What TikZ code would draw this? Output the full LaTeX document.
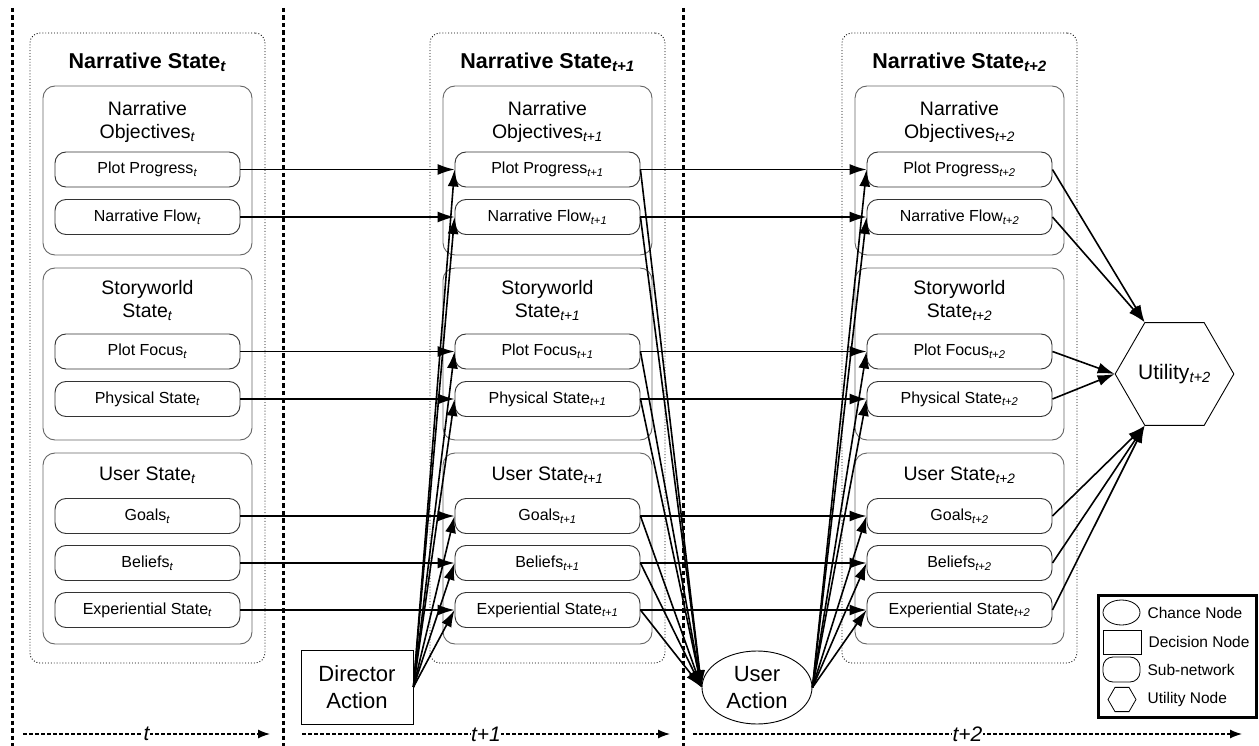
\documentclass[tikz,border=0pt]{standalone}
\usepackage{fontspec}
\setmainfont{Liberation Sans}
\usetikzlibrary{arrows.meta,positioning,shapes.geometric}
\newcommand{\subt}[1]{\textsubscript{\textit{#1}}}

\begin{document}
\begin{tikzpicture}[
 x=1pt, y=-1pt,
 arr/.style={-{Latex[length=17pt,width=11pt]},line width=1.6pt},
 sub/.style={draw=black!80,line width=0.9pt,rounded corners=11pt,minimum width=185pt,minimum height=35pt,inner sep=0pt,font=\fontsize{16}{19}\selectfont},
 grp/.style={draw=black!60,line width=0.9pt,rounded corners=12pt,minimum width=209pt,inner sep=0pt},
 grptitle/.style={align=center,inner sep=0pt,font=\fontsize{19.5}{22.5}\selectfont},
 nsbox/.style={draw,dotted,line width=0.9pt,rounded corners=10pt,minimum width=235pt,minimum height=630pt,inner sep=0pt},
 nstitle/.style={inner sep=0pt,font=\bfseries\fontsize{21.5}{25}\selectfont},
 divider/.style={line width=3pt,dash pattern=on 4.5pt off 3pt},
 timeline/.style={-{Latex[length=12pt,width=9pt]},line width=1.3pt,dash pattern=on 4pt off 2pt},
 timelab/.style={fill=white,inner sep=0.5pt,font=\itshape\fontsize{21}{25}\selectfont},
 action/.style={draw,line width=0.9pt,align=center,inner sep=0pt,font=\fontsize{22}{27}\selectfont},
 lgsym/.style={draw,line width=0.8pt,inner sep=0pt},
 lgtext/.style={inner sep=0pt,font=\fontsize{15.5}{19}\selectfont}
]
\useasboundingbox (0,0) rectangle (1259,746);
\foreach \x in {12,283,683}
 \draw[divider] (\x,8) -- (\x,746);
\foreach \a/\b/\lab [count=\k] in {23/270/t,302/670/t+1,693/1242/t+2}
 \draw[timeline] (\a,734) -- node[timelab] (tl\k) {\lab} (\b,734);

\foreach \i/\cx/\lab in {0/147.5/t,1/547.5/t+1,2/959.5/t+2} {
 \node[nsbox] (ns\i) at (\cx,348) {};
 \node[nstitle] (nst\i) at (\cx,62) {Narrative State\subt{\lab}};
 \node[grp,minimum height=169pt] (no\i) at (\cx,170.5) {};
 \node[grptitle] (not\i) at (\cx,122) {Narrative\\Objectives\subt{\lab}};
 \node[grp,minimum height=172pt] (sw\i) at (\cx,354) {};
 \node[grptitle] (swt\i) at (\cx,300.5) {Storyworld\\State\subt{\lab}};
 \node[grp,minimum height=191pt] (us\i) at (\cx,548.5) {};
 \node[grptitle] (ust\i) at (\cx,475) {User State\subt{\lab}};
 \foreach \n/\y/\txt in {pp/169.5/Plot Progress,nf/217/Narrative Flow,pf/351.5/Plot Focus,ps/399/Physical State,go/516/Goals,be/563/Beliefs,ex/610/Experiential State}
  \node[sub] (\n\i) at (\cx,\y) {\txt\subt{\lab}};
}

\node[action,minimum width=112pt,minimum height=74pt] (da) at (357,687) {Director\\Action};
\node[action,ellipse,minimum width=110pt,minimum height=73pt] (ua) at (757,687.5) {User\\Action};
\node[draw,line width=0.9pt,regular polygon,regular polygon sides=6,minimum size=115pt,inner sep=0pt,font=\fontsize{21}{25}\selectfont] (ut) at (1174.5,374) {Utility\subt{t+2}};

\foreach \n in {pp,nf,pf,ps,go,be,ex} {
 \draw[arr] (\n0.east) -- (\n1.west);
 \draw[arr] (\n1.east) -- (\n2.west);
 \draw[arr] (da.east) -- (\n1.west);
 \draw[arr] (\n1.east) -- (ua.west);
 \draw[arr] (ua.east) -- (\n2.west);
}
\foreach \n/\a in {pp/120,nf/120,pf/180,ps/180,go/240,be/240,ex/240}
 \draw[arr] (\n2.east) -- (ut.\a);

\node[draw,line width=2.8pt,minimum width=158pt,minimum height=122pt,inner sep=0pt] (lg) at (1177.5,656.5) {};
\node[lgsym,ellipse,minimum width=37pt,minimum height=25pt] (lgch) at (1121.5,612.5) {};
\node[lgtext,right=7pt of lgch] (lgcht) {Chance Node};
\node[lgsym,minimum width=38pt,minimum height=24pt] (lgde) at (1122,642) {};
\node[lgtext,right=7pt of lgde] (lgdet) {Decision Node};
\node[lgsym,rounded corners=10pt,minimum width=37pt,minimum height=25pt] (lgsu) at (1121.5,669.5) {};
\node[lgtext,right=7pt of lgsu] (lgsut) {Sub-network};
\node[lgsym,regular polygon,regular polygon sides=6,minimum size=28pt] (lgut) at (1122,699.5) {};
\node[lgtext,right=11pt of lgut] (lgutt) {Utility Node};
\end{tikzpicture}
\end{document}
